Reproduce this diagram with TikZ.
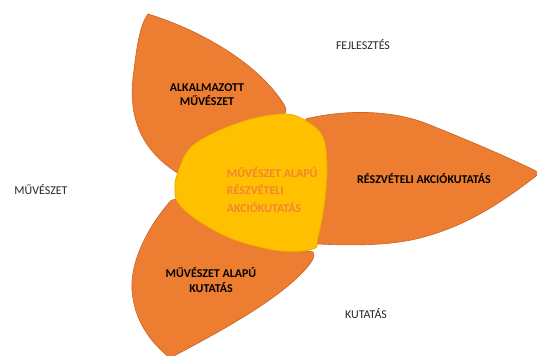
\documentclass[tikz,border=0pt]{standalone}
\usepackage{fontspec}
\setmainfont{Carlito}
\definecolor{petalorange}{HTML}{ED7D31}
\definecolor{petaledge}{HTML}{C8672A}
\definecolor{coreyellow}{HTML}{FFC000}
\definecolor{coreedge}{HTML}{E3AA00}
\definecolor{coretext}{HTML}{F08536}
\definecolor{outertext}{HTML}{262626}
\begin{document}
\begin{tikzpicture}[
    petal/.style={fill=petalorange, draw=petaledge, line width=0.016cm},
    core/.style={fill=coreyellow, draw=coreedge, line width=0.016cm},
    petaltext/.style={align=center, text=black, font=\fontsize{8.5}{10}\selectfont\bfseries},
    outertext/.style={text=outertext, font=\fontsize{8.5}{10}\selectfont}]
            \useasboundingbox (0,0) rectangle (13.425,8.9);
            
            % Drawing petal alkalmazott
            \draw [petal] (3.700,8.550) .. controls (5.000,8.150) and (6.375,7.350) .. (7.025,6.400)
                .. controls (7.225,6.125) and (7.175,6.025) .. (6.950,6.000)
                -- (6.000,5.650) -- (4.650,4.450)
                .. controls (3.375,5.150) and (3.200,6.150) .. (3.350,7.150)
                .. controls (3.425,7.775) and (3.500,8.275) .. cycle;%
            
            % Drawing petal reszveteli
            \draw [petal] (7.625,5.850) .. controls (7.650,5.950) and (7.700,5.975) .. (7.750,5.950)
                .. controls (8.500,6.125) and (9.750,6.200) .. (10.750,5.775)
                .. controls (11.750,5.375) and (12.750,4.950) .. (13.500,4.575)
                .. controls (12.625,3.900) and (11.750,3.275) .. (10.500,2.950)
                .. controls (9.625,2.725) and (8.500,2.775) .. (7.950,2.800)
                -- (7.500,2.900) -- (7.500,5.650) -- cycle;%
            
            % Drawing petal kutatas
            \draw [petal] (4.500,3.900) .. controls (4.300,3.950) and (4.250,3.875) .. (4.200,3.800)
                .. controls (3.750,3.275) and (3.250,2.400) .. (3.300,1.650)
                .. controls (3.350,0.900) and (3.750,0.350) .. (4.250,-0.050)
                .. controls (5.250,0.475) and (6.750,1.275) .. (7.500,2.025)
                .. controls (7.800,2.325) and (7.900,2.500) .. (7.825,2.600)
                -- (6.500,2.900) -- cycle;%
            
            % Drawing core
            \draw [core] plot [smooth cycle, tension=0.6] coordinates {
                (4.425,4.525) (4.750,5.200) (5.500,5.650) (6.375,5.950) (7.175,6.050)
                (7.700,5.850) (8.075,5.475) (8.175,4.775) (8.125,3.900) (7.950,2.950)
                (7.825,2.675) (7.000,2.625) (5.875,2.900) (5.000,3.350) (4.450,3.825)
                (4.375,4.200)};%
            
            % Labels of the petals
            \node [petaltext] (alkalmazott) at (5.175,6.525) {ALKALMAZOTT\\MŰVÉSZET};%
            \node [petaltext] (reszveteli) at (10.600,4.425) {RÉSZVÉTELI AKCIÓKUTATÁS};%
            \node [petaltext, font=\fontsize{8.5}{10.5}\selectfont\bfseries] (alapukutatas) at (5.275,1.900) {MŰVÉSZET ALAPÚ\\KUTATÁS};%
            \node [petaltext, align=left, anchor=west, text=coretext, font=\fontsize{8.5}{12.5}\selectfont\bfseries] (core) at (5.550,4.150) {MŰVÉSZET ALAPÚ\\RÉSZVÉTELI\\AKCIÓKUTATÁS};%
            
            % Labels outside
            \node [outertext] (muveszet) at (1.025,4.150) {MŰVÉSZET};%
            \node [outertext] (fejlesztes) at (9.075,7.775) {FEJLESZTÉS};%
            \node [outertext] (kutatas) at (9.150,1.050) {KUTATÁS};%
\end{tikzpicture}
\end{document}
